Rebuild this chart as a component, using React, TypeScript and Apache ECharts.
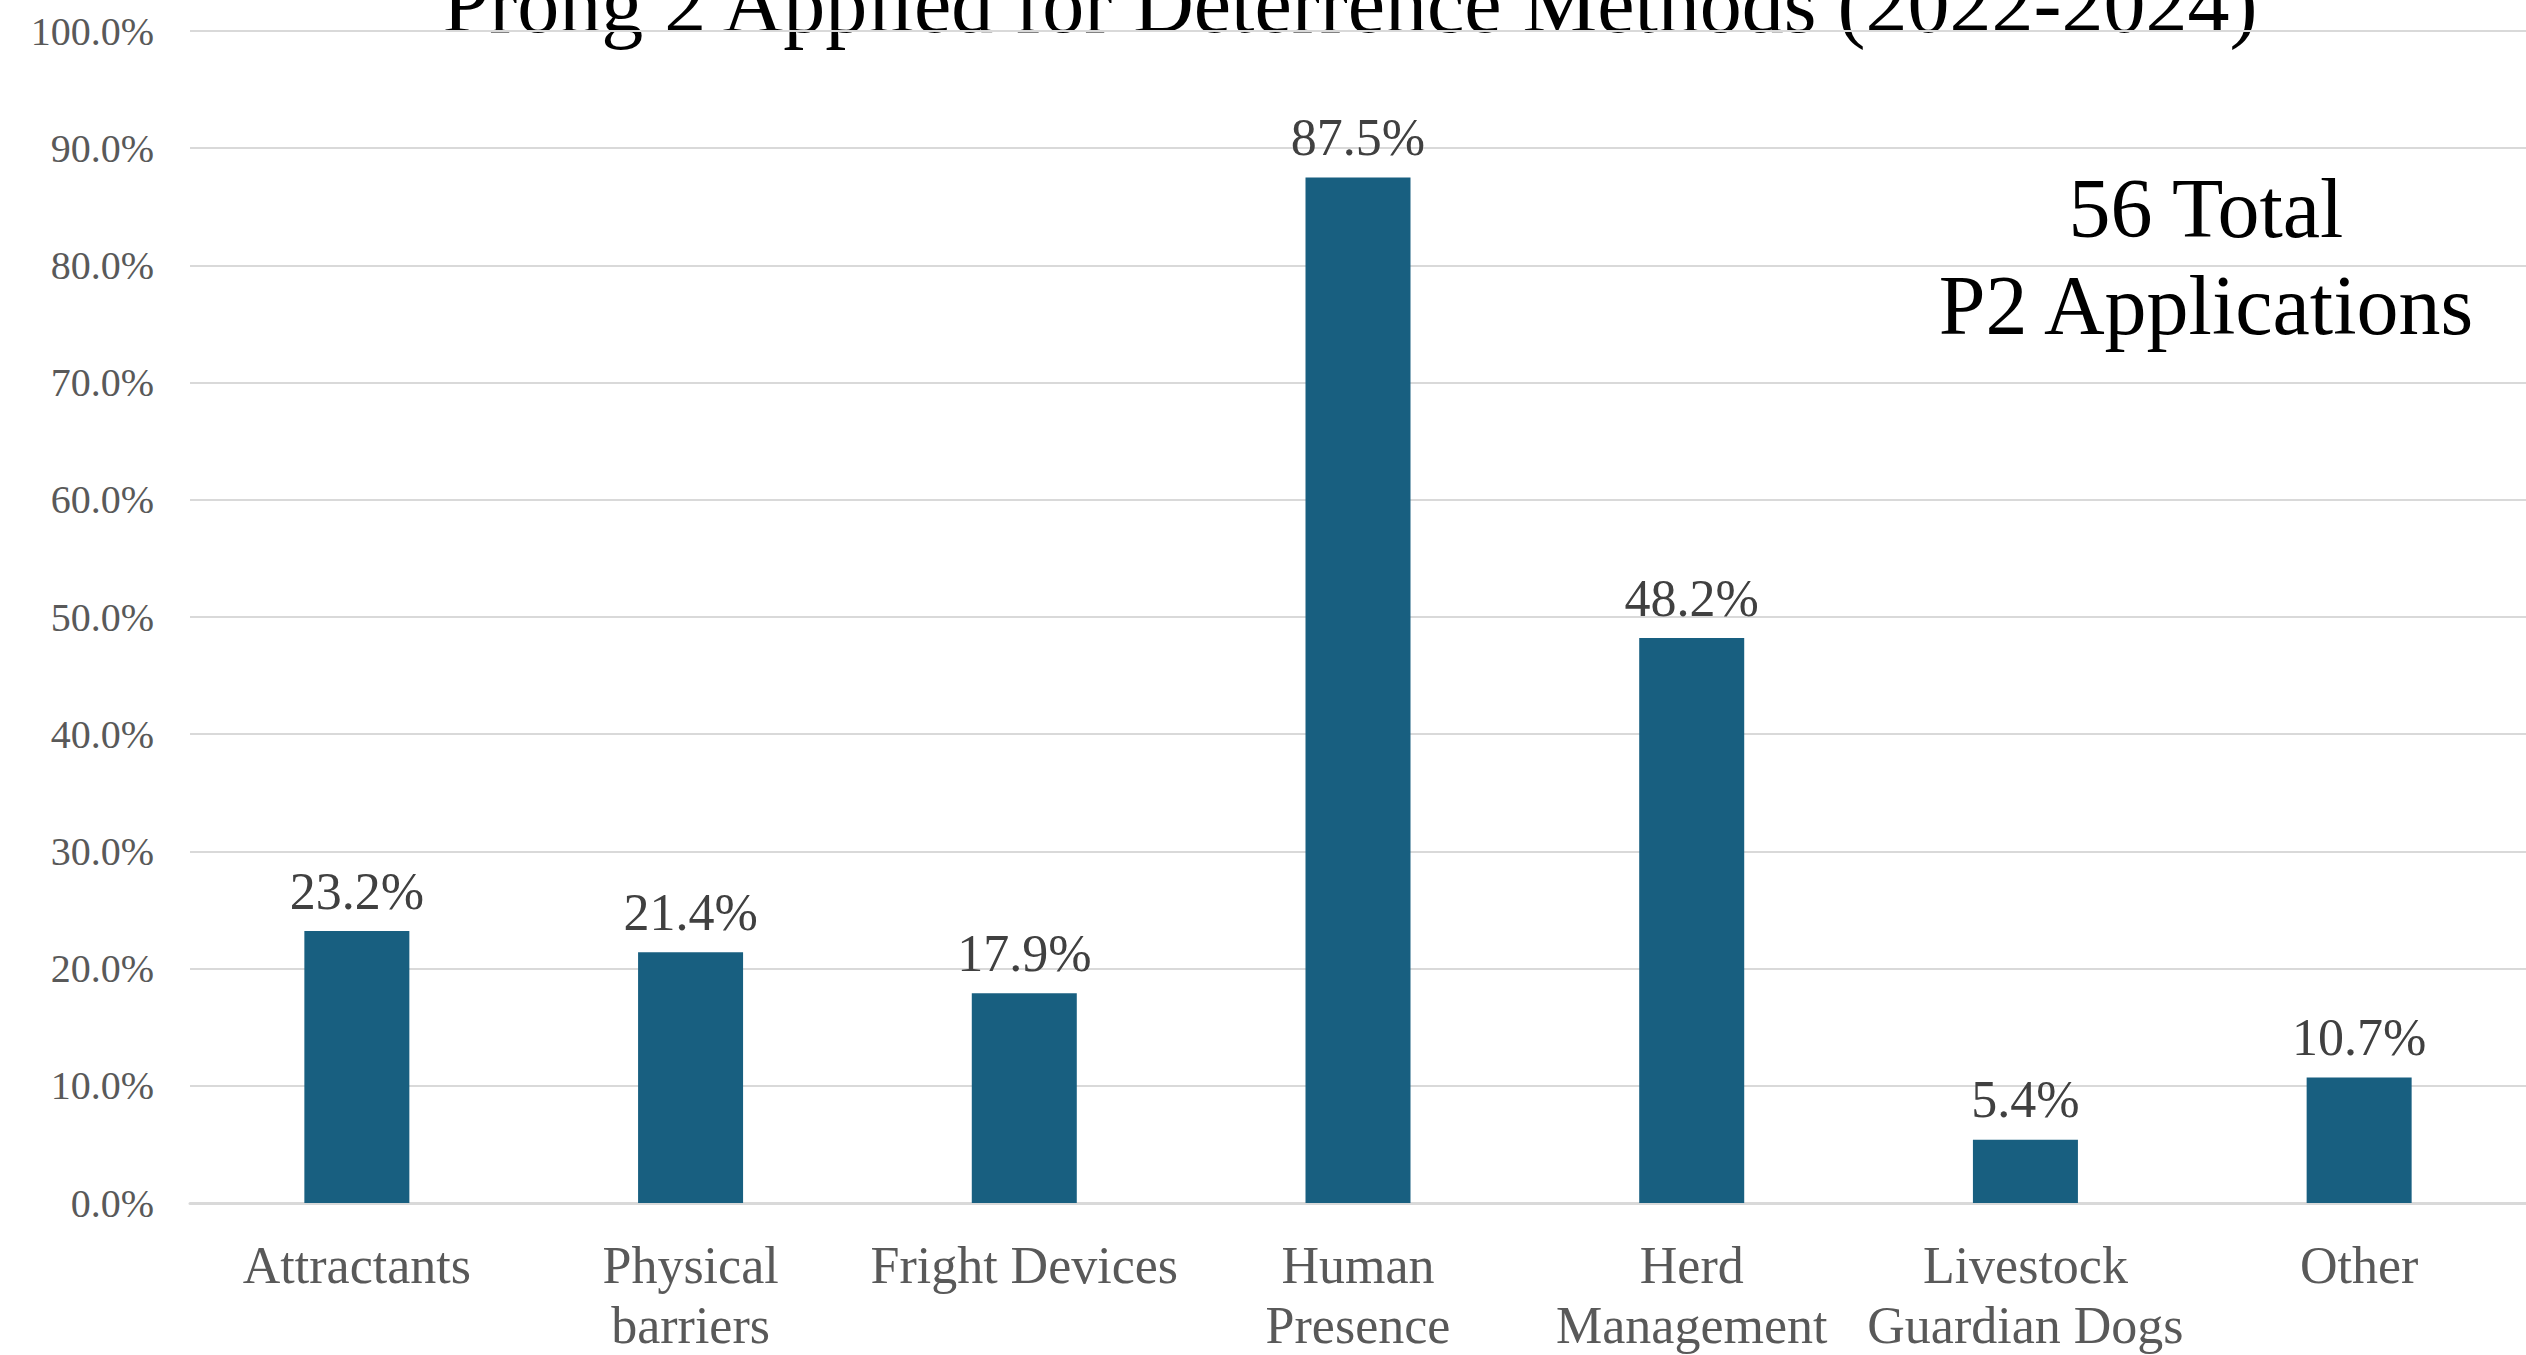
import React, { useEffect, useRef } from "react";
import * as echarts from "echarts";

const categories = [
  "Attractants",
  "Physical\nbarriers",
  "Fright Devices",
  "Human\nPresence",
  "Herd\nManagement",
  "Livestock\nGuardian Dogs",
  "Other",
];
const percentValues = [23.2, 21.4, 17.9, 87.5, 48.2, 5.4, 10.7];
const titleText = "Prong 2 Applied for Deterrence Methods (2022-2024)";
const noteText = "56 Total\nP2 Applications";

const FONT = "'Liberation Serif', 'Times New Roman', serif";

export default function App() {
  const ref = useRef<HTMLDivElement>(null);
  useEffect(() => {
    document.body.style.margin = "0";
    const chart = echarts.init(ref.current!, null, { renderer: "svg" });
    chart.setOption({
      animation: false,
      backgroundColor: "#ffffff",
      grid: { left: 190, right: 0, top: 31, bottom: 152, containLabel: false },
      xAxis: {
        type: "category",
        data: categories,
        axisLine: { show: true, lineStyle: { color: "#d9d9d9", width: 3 } },
        axisTick: { show: false },
        axisLabel: {
          interval: 0,
          margin: 32,
          fontFamily: FONT,
          fontSize: 52,
          lineHeight: 60,
          color: "#595959",
        },
      },
      yAxis: {
        type: "value",
        min: 0,
        max: 100,
        interval: 10,
        axisLine: { show: false },
        axisTick: { show: false },
        splitLine: { lineStyle: { color: "#d9d9d9", width: 2 } },
        axisLabel: {
          margin: 36,
          fontFamily: FONT,
          fontSize: 40,
          color: "#595959",
          formatter: (v: number) => v.toFixed(1) + "%",
        },
      },
      series: [
        {
          type: "bar",
          data: percentValues,
          barWidth: 105,
          itemStyle: { color: "#185f80" },
          label: {
            show: true,
            position: "top",
            distance: 14,
            fontFamily: FONT,
            fontSize: 52,
            color: "#404040",
            formatter: (p: any) => Number(p.value).toFixed(1) + "%",
          },
        },
      ],
      graphic: [
        {
          type: "text",
          x: 1350,
          y: 3,
          style: {
            text: titleText,
            font: `84px ${FONT}`,
            fill: "#000000",
            align: "center",
            verticalAlign: "middle",
          },
        },
        {
          type: "text",
          x: 2206,
          y: 257,
          style: {
            text: noteText,
            font: `84px ${FONT}`,
            lineHeight: 97,
            fill: "#000000",
            align: "center",
            verticalAlign: "middle",
          },
        },
      ],
    });
    return () => chart.dispose();
  }, []);
  return <div ref={ref} style={{ width: 2526, height: 1355 }} />;
}
